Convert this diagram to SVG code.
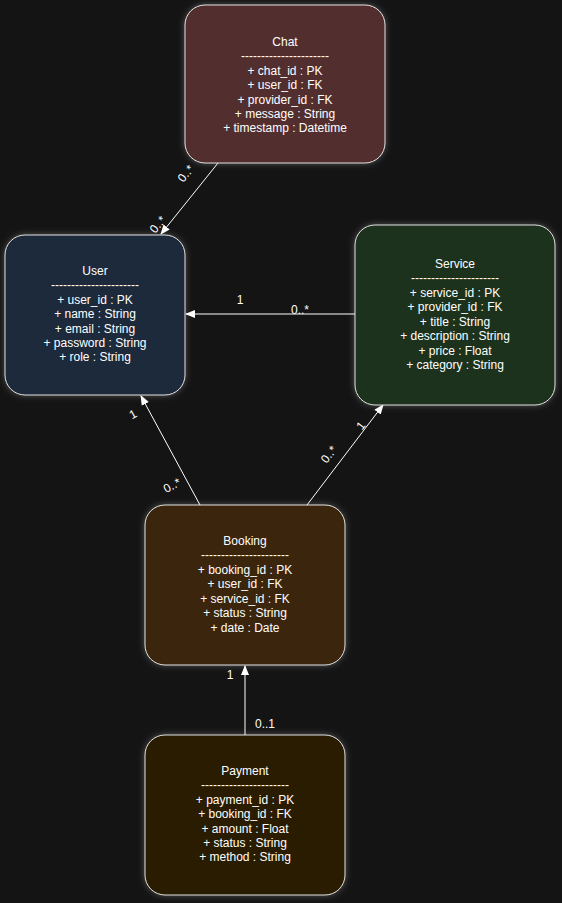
<svg xmlns="http://www.w3.org/2000/svg" width="562" height="903" viewBox="0 0 562 903">
<defs>
<filter id="glow" x="-20%" y="-20%" width="140%" height="140%">
<feDropShadow dx="0" dy="0" stdDeviation="3" flood-color="#ffffff" flood-opacity="0.28"/>
</filter>
<marker id="arr" viewBox="0 0 10 10" refX="9" refY="5" markerWidth="10" markerHeight="10" markerUnits="userSpaceOnUse" orient="auto">
<path d="M0,1 L10,5 L0,9 Z" fill="#ffffff"/>
</marker>
</defs>
<style>
.box{stroke:#e0e0e0;stroke-width:1;filter:url(#glow)}
text{font-family:"Liberation Sans",Arial,sans-serif;font-size:12px;fill:#ffffff;text-anchor:middle}
.edge{stroke:#ffffff;stroke-width:1;fill:none;marker-end:url(#arr)}
</style>
<rect width="562" height="903" fill="#141414"/>
<g id="connectors">
<line class="edge" x1="218" y1="163" x2="161" y2="234"/>
<line class="edge" x1="355" y1="314" x2="186" y2="314"/>
<line class="edge" x1="200" y1="505" x2="141" y2="396"/>
<line class="edge" x1="307" y1="505" x2="383" y2="405"/>
<line class="edge" x1="245" y1="735" x2="245" y2="666"/>
<text transform="translate(189,176) rotate(-51)">0..*</text>
<text transform="translate(161,227) rotate(-51)">0..*</text>
<text x="240" y="304">1</text>
<text x="300" y="314">0..*</text>
<text transform="translate(135,418) rotate(-29)">1</text>
<text transform="translate(174,489) rotate(-29)">0..*</text>
<text transform="translate(364,428) rotate(-52)">1</text>
<text transform="translate(332,457) rotate(-52)">0..*</text>
<text x="230" y="679">1</text>
<text x="265" y="728">0..1</text>
</g>
<g id="chat">
<rect class="box" x="185" y="5" width="200" height="158" rx="20" fill="#522f2f"/>
<text x="285" y="46">Chat</text>
<text x="285" y="60">----------------------</text>
<text x="285" y="75">+ chat_id : PK</text>
<text x="285" y="89">+ user_id : FK</text>
<text x="285" y="104">+ provider_id : FK</text>
<text x="285" y="118">+ message : String</text>
<text x="285" y="132">+ timestamp : Datetime</text>
</g>
<g id="user">
<rect class="box" x="5" y="235" width="180" height="160" rx="20" fill="#1e293b"/>
<text x="95" y="275">User</text>
<text x="95" y="289">----------------------</text>
<text x="95" y="304">+ user_id : PK</text>
<text x="95" y="318">+ name : String</text>
<text x="95" y="333">+ email : String</text>
<text x="95" y="347">+ password : String</text>
<text x="95" y="361">+ role : String</text>
</g>
<g id="service">
<rect class="box" x="355" y="225" width="200" height="180" rx="20" fill="#1f301f"/>
<text x="455" y="268">Service</text>
<text x="455" y="282">----------------------</text>
<text x="455" y="297">+ service_id : PK</text>
<text x="455" y="311">+ provider_id : FK</text>
<text x="455" y="326">+ title : String</text>
<text x="455" y="340">+ description : String</text>
<text x="455" y="355">+ price : Float</text>
<text x="455" y="369">+ category : String</text>
</g>
<g id="booking">
<rect class="box" x="145" y="505" width="200" height="160" rx="20" fill="#3b2610"/>
<text x="245" y="545">Booking</text>
<text x="245" y="559">----------------------</text>
<text x="245" y="574">+ booking_id : PK</text>
<text x="245" y="588">+ user_id : FK</text>
<text x="245" y="603">+ service_id : FK</text>
<text x="245" y="617">+ status : String</text>
<text x="245" y="632">+ date : Date</text>
</g>
<g id="payment">
<rect class="box" x="145" y="735" width="200" height="160" rx="20" fill="#2a1e06"/>
<text x="245" y="775">Payment</text>
<text x="245" y="789">----------------------</text>
<text x="245" y="804">+ payment_id : PK</text>
<text x="245" y="818">+ booking_id : FK</text>
<text x="245" y="833">+ amount : Float</text>
<text x="245" y="847">+ status : String</text>
<text x="245" y="861">+ method : String</text>
</g>
</svg>
